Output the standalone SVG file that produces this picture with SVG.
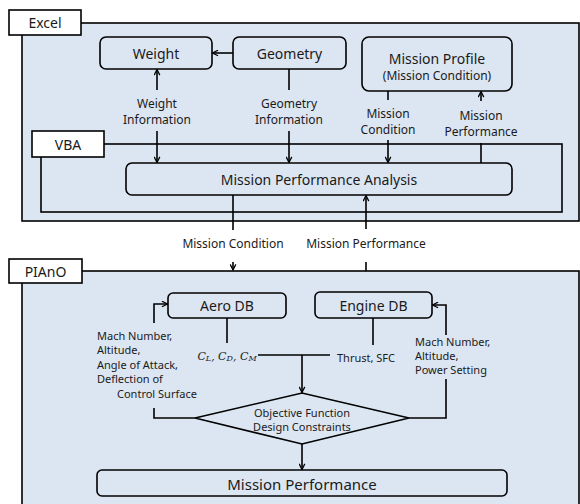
<svg xmlns="http://www.w3.org/2000/svg" width="580" height="504" viewBox="0 0 580 504">
<defs>
<style>
text{font-family:"Noto Sans","Open Sans","DejaVu Sans",sans-serif;fill:#1a1a1a;dominant-baseline:central}
.t14{font-size:14px;text-anchor:middle}
.t15{font-size:15px;text-anchor:middle}
.t12{font-size:12px;text-anchor:middle}
.t11{font-size:11px}
.mid{text-anchor:middle}
.math{font-family:"DejaVu Serif","Liberation Serif",serif;font-style:italic;font-size:11px;text-anchor:middle}
.panel{fill:#dce6f2;stroke:#000;stroke-width:1.6}
.tab{fill:#fff;stroke:#000;stroke-width:1.6}
.box{fill:none;stroke:#000;stroke-width:1.6}
.ln{fill:none;stroke:#000;stroke-width:1.6}
.ar{fill:none;stroke:#000;stroke-width:1.6;marker-end:url(#ah)}
</style>
<marker id="ah" viewBox="0 0 10 10" refX="9" refY="5" markerWidth="7" markerHeight="7" markerUnits="userSpaceOnUse" orient="auto">
<path d="M1,1 L9,5 L1,9" fill="none" stroke="#000" stroke-width="1.8"/>
</marker>
</defs>
<rect width="580" height="504" fill="#fff"/>

<g id="excel">
<rect class="panel" x="22" y="23" width="557" height="198"/>
<rect class="tab" x="9" y="10" width="72" height="25"/>
<text class="t14" x="45" y="22.5">Excel</text>
</g>

<g id="vba">
<rect class="box" x="41" y="144" width="521" height="68"/>
<rect class="tab" x="32" y="131" width="72" height="26"/>
<text class="t14" x="68" y="144">VBA</text>
</g>

<g id="piano">
<rect class="panel" x="22" y="271" width="557" height="240"/>
<rect class="tab" x="9" y="259" width="73" height="24"/>
<text class="t14" x="45.5" y="271">PIAnO</text>
</g>

<g id="weight">
<rect class="box" x="100" y="37" width="112" height="32" rx="6"/>
<text class="t14" x="156" y="53">Weight</text>
</g>
<g id="geometry">
<rect class="box" x="233" y="37" width="113" height="32" rx="6"/>
<text class="t14" x="289.5" y="53">Geometry</text>
</g>
<g id="mission-profile">
<rect class="box" x="362" y="37" width="150" height="54" rx="7"/>
<text class="t14" x="437" y="58">Mission Profile</text>
<text class="t12" x="437" y="75">(Mission Condition)</text>
</g>
<g id="mpa">
<rect class="box" x="126" y="163" width="386" height="32" rx="6"/>
<text class="t14" x="319" y="179">Mission Performance Analysis</text>
</g>
<g id="aero-db">
<rect class="box" x="168" y="293" width="118" height="25" rx="5"/>
<text class="t14" x="227" y="305.5">Aero DB</text>
</g>
<g id="engine-db">
<rect class="box" x="315" y="292" width="117" height="26" rx="5"/>
<text class="t14" x="373.5" y="305">Engine DB</text>
</g>
<g id="decision">
<polygon class="box" points="195,418 302,393 409,418 302,444"/>
<text class="t11 mid" x="302" y="412">Objective Function</text>
<text class="t11 mid" x="302" y="426">Design Constraints</text>
</g>
<g id="mission-performance">
<rect class="box" x="97" y="470" width="410" height="26" rx="5"/>
<text class="t15" x="302" y="483.5">Mission Performance</text>
</g>

<g id="connectors">
<line class="ar" x1="233" y1="53" x2="212.5" y2="53"/>
<line class="ar" x1="157" y1="90" x2="157" y2="69.5"/>
<line class="ar" x1="157" y1="131" x2="157" y2="162.5"/>
<line class="ln" x1="289" y1="69" x2="289" y2="90"/>
<line class="ar" x1="289" y1="131" x2="289" y2="162.5"/>
<line class="ln" x1="388" y1="91" x2="388" y2="100"/>
<line class="ar" x1="388" y1="140" x2="388" y2="162.5"/>
<line class="ar" x1="481" y1="101" x2="481" y2="91.5"/>
<line class="ln" x1="481" y1="143" x2="481" y2="163"/>
<line class="ln" x1="233" y1="195" x2="233" y2="230"/>
<line class="ar" x1="233" y1="262" x2="233" y2="270"/>
<line class="ln" x1="366" y1="271" x2="366" y2="262"/>
<line class="ar" x1="366" y1="229" x2="366" y2="195.5"/>
<path class="ar" d="M154,323 V304 H167.5"/>
<path class="ar" d="M446,335 V305 H432.5"/>
<line class="ln" x1="227" y1="318" x2="227" y2="343"/>
<line class="ln" x1="373" y1="318" x2="373" y2="345"/>
<line class="ln" x1="258" y1="355" x2="330" y2="355"/>
<line class="ar" x1="302" y1="355" x2="302" y2="392.5"/>
<path class="ln" d="M154,408 V418 H195"/>
<path class="ln" d="M446,379 V418 H409"/>
<line class="ar" x1="302" y1="444" x2="302" y2="469.5"/>
</g>

<g id="labels">
<text class="t12" x="157" y="103">Weight</text>
<text class="t12" x="157" y="119">Information</text>
<text class="t12" x="289" y="103">Geometry</text>
<text class="t12" x="289" y="119">Information</text>
<text class="t12" x="388" y="113">Mission</text>
<text class="t12" x="388" y="129">Condition</text>
<text class="t12" x="481" y="115">Mission</text>
<text class="t12" x="481" y="131">Performance</text>
<text class="t12" x="233" y="243">Mission Condition</text>
<text class="t12" x="366" y="243">Mission Performance</text>
<text class="t11" x="97" y="335">Mach Number,</text>
<text class="t11" x="97" y="349.5">Altitude,</text>
<text class="t11" x="97" y="364">Angle of Attack,</text>
<text class="t11" x="97" y="378.5">Deflection of</text>
<text class="t11" x="117" y="393">Control Surface</text>
<text class="math" x="227" y="356">C<tspan font-size="8" dy="2">L</tspan><tspan dy="-2">, C</tspan><tspan font-size="8" dy="2">D</tspan><tspan dy="-2">, C</tspan><tspan font-size="8" dy="2">M</tspan></text>
<text class="t11" x="337" y="357">Thrust, SFC</text>
<text class="t11" x="415" y="341">Mach Number,</text>
<text class="t11" x="415" y="355">Altitude,</text>
<text class="t11" x="415" y="369">Power Setting</text>
</g>
</svg>
